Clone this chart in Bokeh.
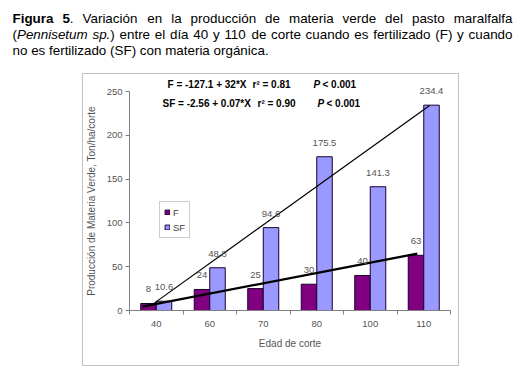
from bokeh.plotting import figure
from bokeh.models import (FixedTicker, Label, Legend, LegendItem, ColumnDataSource, Range1d,
                          LinearAxis, BoxAnnotation)
from bokeh.core.properties import value
from bokeh.embed import file_html
from bokeh.resources import INLINE

categories = ["40", "60", "70", "80", "100", "110"]
f_values = [8, 24, 25, 30, 40, 63]
sf_values = [10.6, 48.8, 94.6, 175.5, 141.3, 234.4]
f_labels = ["8", "24", "25", "30", "40", "63"]
sf_labels = ["10.6", "48.8", "94.6", "175.5", "141.3", "234.4"]
y_ticks = [0, 50, 100, 150, 200, 250]
f_trend_x = [-0.26, 4.88]
f_trend_y = [4.5, 65]
sf_trend_x = [-0.07, 5.11]
sf_trend_y = [7, 234]

FONT = "Liberation Sans"
W, H = 516, 374

# plot-area placement on the canvas (pixels): categories span 129..450, value 0 at 310, 250 at 91
PX_L, PX_R, PY_0, PY_250 = 129, 450, 310, 91
n = len(categories)
xs_per_px = n / (PX_R - PX_L)
ys_per_px = 250 / (PY_0 - PY_250)
x_start = -0.5 - PX_L * xs_per_px
x_end = -0.5 + (W - PX_L) * xs_per_px
y_start = -(H - PY_0) * ys_per_px
y_end = PY_0 * ys_per_px

p = figure(width=W, height=H, x_range=Range1d(x_start, x_end), y_range=Range1d(y_start, y_end),
           output_backend="svg", toolbar_location=None, x_axis_type=None, y_axis_type=None,
           min_border=0, min_border_left=0, min_border_right=0, min_border_top=0, min_border_bottom=0)
p.outline_line_color = None
p.grid.grid_line_color = None

idx = list(range(n))
off = 0.145
src = ColumnDataSource(dict(
    xf=[i - off for i in idx], xs=[i + off for i in idx],
    f=f_values, sf=sf_values, fl=f_labels, sl=sf_labels))

rf = p.vbar(x="xf", top="f", width=0.29, source=src, fill_color="#800080", line_color="#1a0030", line_width=1)
rs = p.vbar(x="xs", top="sf", width=0.29, source=src, fill_color="#9999FF", line_color="#1a0030", line_width=1)

p.line(f_trend_x, f_trend_y, line_color="black", line_width=2.2)
p.line(sf_trend_x, sf_trend_y, line_color="black", line_width=1.2)

p.text(x="xf", y="f", text="fl", source=src, text_align="center", text_baseline="middle",
       y_offset=-14, text_font_size="9.5px", text_color="#555555", text_font=value(FONT))
p.text(x="xs", y="sf", text="sl", source=src, text_align="center", text_baseline="middle",
       y_offset=-14, text_font_size="9.5px", text_color="#555555", text_font=value(FONT))

xa = LinearAxis(fixed_location=0, bounds=(-0.5, n - 0.5))
xa.ticker = FixedTicker(ticks=idx, minor_ticks=[i - 0.5 for i in idx] + [n - 0.5])
xa.major_label_overrides = {i: c for i, c in zip(idx, categories)}
xa.major_tick_line_color = None
xa.major_tick_out = 0
xa.major_tick_in = 0
xa.minor_tick_out = 4
xa.minor_tick_in = 0
xa.minor_tick_line_color = "#808080"
xa.axis_line_color = "#808080"
xa.major_label_standoff = 6
xa.major_label_text_font_size = "9.5px"
xa.major_label_text_color = "#555555"
xa.major_label_text_font = FONT
xa.axis_label = "Edad de corte"
xa.axis_label_text_font_size = "10px"
xa.axis_label_text_font_style = "normal"
xa.axis_label_text_color = "#555555"
xa.axis_label_text_font = FONT
xa.axis_label_standoff = 8
p.add_layout(xa, "below")

ya = LinearAxis(fixed_location=-0.5, bounds=(0, 250))
ya.ticker = FixedTicker(ticks=y_ticks)
ya.minor_tick_line_color = None
ya.major_tick_out = 4
ya.major_tick_in = 0
ya.major_tick_line_color = "#808080"
ya.axis_line_color = "#808080"
ya.major_label_standoff = 3
ya.major_label_text_font_size = "9.5px"
ya.major_label_text_color = "#555555"
ya.major_label_text_font = FONT
ya.axis_label = "Producción de Materia Verde, Ton/ha/corte"
ya.axis_label_text_font_size = "10px"
ya.axis_label_text_font_style = "normal"
ya.axis_label_text_color = "#555555"
ya.axis_label_text_font = FONT
ya.axis_label_standoff = 7
p.add_layout(ya, "left")

legend = Legend(items=[LegendItem(label="F", renderers=[rf]), LegendItem(label="SF", renderers=[rs])],
                location=(159, H - 238), glyph_width=6, glyph_height=6, label_height=12, label_width=10,
                padding=4, spacing=3, label_standoff=3, margin=0,
                label_text_font_size="9.5px", label_text_color="#444444", label_text_font=FONT,
                border_line_color="#999999", background_fill_alpha=1)
p.add_layout(legend, "center")

# outer chart border
p.add_layout(BoxAnnotation(left=82, right=458, top=H - 73, bottom=H - 365,
                           left_units="screen", right_units="screen", top_units="screen", bottom_units="screen",
                           fill_color=None, line_color="#333333", line_width=1))


def L(text, px, py, size="10px", style="bold", baseline="middle"):
    p.add_layout(Label(x=px, y=H - py, x_units="screen", y_units="screen", text=text,
                       text_font=FONT, text_font_size=size, text_font_style=style,
                       text_color="black", text_align="left", text_baseline=baseline))


# equations
L("F = -127.1 + 32*X", 167, 84)
L("r² = 0.81", 252, 84)
L("P", 313, 84, style="bold italic")
L("< 0.001", 322, 84)
L("SF = -2.56 + 0.07*X", 162, 103)
L("r² = 0.90", 257, 103)
L("P", 317, 103, style="bold italic")
L("< 0.001", 326, 103)

# caption, justified word by word (Arial / Liberation Sans advance widths, 1/1000 em)
REG = dict(zip("abcdefghijklmnopqrstuvwxyz", [556, 556, 500, 556, 556, 278, 556, 556, 222, 222, 500, 222, 833,
                                               556, 556, 556, 556, 333, 500, 278, 556, 500, 722, 500, 500, 500]))
REG.update({" ": 278, ".": 278, ",": 278, "(": 333, ")": 333, "F": 611, "S": 667, "P": 667, "V": 667,
            "í": 278, "á": 556, "ó": 556})
for d in "0123456789":
    REG[d] = 556
BOLD = dict(REG)
BOLD.update({"F": 611, "i": 278, "g": 611, "u": 611, "r": 389, "a": 556})
CAP_SIZE = 13.4


def tw(t, style):
    tab = BOLD if "bold" in style else REG
    return sum(tab.get(ch, 556) for ch in t) * CAP_SIZE / 1000.0


def caption_line(tokens, py, x0=12, x1=None):
    natural = sum(tw(t, s) for t, s, _ in tokens) + sum(tw(" ", "normal") for _, _, sp in tokens if sp)
    gaps = sum(1 for _, _, sp in tokens if sp)
    extra = 0 if x1 is None or gaps == 0 else (x1 - x0 - natural) / gaps
    x = x0
    for t, s, sp in tokens:
        if sp:
            x += tw(" ", "normal") + extra
        L(t, x, py, size=f"{CAP_SIZE}px", style=s, baseline="alphabetic")
        x += tw(t, s)


def words(text, style="normal", first_space=True):
    return [(w, style, first_space if i == 0 else True) for i, w in enumerate(text.split(" "))]


line1 = [("Figura", "bold", False), ("5", "bold", True), (".", "normal", False)] + \
    words("Variación en la producción de materia verde del pasto maralfalfa")
line2 = [("(", "normal", False), ("Pennisetum", "italic", False), ("sp.", "italic", True), (")", "normal", False)] + \
    words("entre el día 40 y 110 de corte cuando es fertilizado (F) y cuando")
line3 = words("no es fertilizado (SF) con materia orgánica.", first_space=False)

caption_line(line1, 17.5, 12, 512)
caption_line(line2, 33.5, 12, 512)
caption_line(line3, 49.5, 12, None)

open("out.html", "w").write(file_html(p, INLINE))
